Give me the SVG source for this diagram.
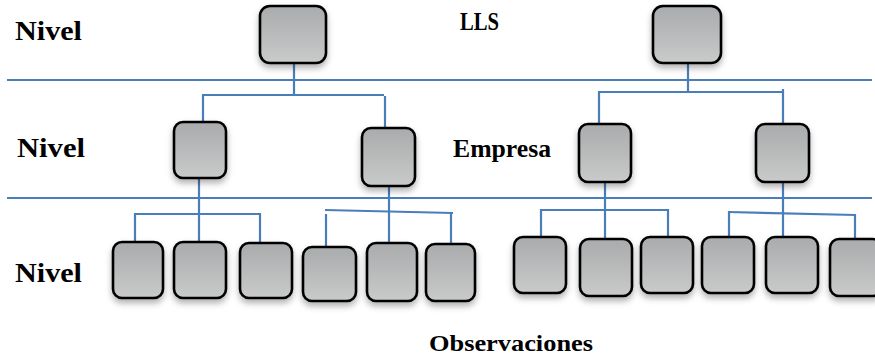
<svg xmlns="http://www.w3.org/2000/svg" width="875" height="357" viewBox="0 0 875 357">
<defs>
<linearGradient id="g" x1="0" y1="0" x2="0" y2="1">
<stop offset="0" stop-color="#a9abac"/>
<stop offset="1" stop-color="#c9caca"/>
</linearGradient>
<filter id="sh" x="-20%" y="-20%" width="140%" height="150%">
<feDropShadow dx="0" dy="4" stdDeviation="3" flood-color="#000" flood-opacity="0.3"/>
</filter>
</defs>
<style>
.n rect{fill:url(#g);stroke:#000;stroke-width:2.6;filter:url(#sh)}
.c line{stroke:#4a7ebb;stroke-width:2.2;fill:none}
.t{font-family:"Liberation Serif","Times New Roman",serif;font-weight:bold;fill:#000}
</style>
<rect width="875" height="357" fill="#fff"/>
<g id="connectors" class="c">
<line x1="7" y1="80" x2="872" y2="80"/>
<line x1="7" y1="198" x2="872" y2="198"/>
<line x1="294" y1="63" x2="294" y2="95"/>
<line x1="203" y1="95" x2="384" y2="95"/>
<line x1="203" y1="94" x2="203" y2="122"/>
<line x1="385" y1="96" x2="385" y2="128"/>
<line x1="688" y1="63" x2="688" y2="92"/>
<line x1="599" y1="92" x2="784" y2="92"/>
<line x1="599" y1="91" x2="599" y2="124"/>
<line x1="783" y1="89" x2="783" y2="124"/>
<line x1="199" y1="178" x2="199" y2="242"/>
<line x1="135" y1="214" x2="261" y2="214"/>
<line x1="135" y1="213" x2="135" y2="242"/>
<line x1="260" y1="213" x2="260" y2="243"/>
<line x1="389" y1="186" x2="389" y2="243"/>
<line x1="325" y1="210" x2="453" y2="213"/>
<line x1="326" y1="214" x2="326" y2="247"/>
<line x1="451" y1="212" x2="451" y2="244"/>
<line x1="605" y1="182" x2="605" y2="239"/>
<line x1="540" y1="210" x2="669" y2="210"/>
<line x1="541" y1="209" x2="541" y2="237"/>
<line x1="668" y1="209" x2="668" y2="237"/>
<line x1="783" y1="182" x2="783" y2="237"/>
<line x1="728" y1="212" x2="856" y2="215"/>
<line x1="729" y1="211" x2="729" y2="237"/>
<line x1="855" y1="214" x2="855" y2="239"/>
</g>
<g id="T1" class="n"><rect x="260" y="6" width="66" height="57" rx="10"/></g>
<g id="T2" class="n"><rect x="653" y="6" width="68" height="57" rx="10"/></g>
<g id="M1" class="n"><rect x="174" y="122" width="52" height="56" rx="9"/></g>
<g id="M2" class="n"><rect x="362" y="128" width="53" height="58" rx="9"/></g>
<g id="M3" class="n"><rect x="579" y="124" width="52" height="58" rx="9"/></g>
<g id="M4" class="n"><rect x="756" y="124" width="53" height="58" rx="9"/></g>
<g id="B1" class="n"><rect x="113" y="242" width="50" height="56" rx="9"/></g>
<g id="B2" class="n"><rect x="174" y="242" width="52" height="56" rx="9"/></g>
<g id="B3" class="n"><rect x="240" y="243" width="52" height="55" rx="9"/></g>
<g id="B4" class="n"><rect x="303" y="247" width="53" height="54" rx="9"/></g>
<g id="B5" class="n"><rect x="367" y="243" width="50" height="58" rx="9"/></g>
<g id="B6" class="n"><rect x="426" y="244" width="49" height="57" rx="9"/></g>
<g id="B7" class="n"><rect x="514" y="237" width="52" height="56" rx="9"/></g>
<g id="B8" class="n"><rect x="580" y="239" width="52" height="57" rx="9"/></g>
<g id="B9" class="n"><rect x="641" y="237" width="52" height="56" rx="9"/></g>
<g id="B10" class="n"><rect x="702" y="237" width="52" height="56" rx="9"/></g>
<g id="B11" class="n"><rect x="766" y="237" width="52" height="56" rx="9"/></g>
<g id="B12" class="n"><rect x="830" y="239" width="52" height="57" rx="9"/></g>
<g id="labels">
<text class="t" x="15" y="40" font-size="27" textLength="67" lengthAdjust="spacingAndGlyphs">Nivel</text>
<text class="t" x="17" y="157" font-size="27" textLength="68" lengthAdjust="spacingAndGlyphs">Nivel</text>
<text class="t" x="15" y="282" font-size="27" textLength="67" lengthAdjust="spacingAndGlyphs">Nivel</text>
<text class="t" x="460" y="30" font-size="25" textLength="39" lengthAdjust="spacingAndGlyphs">LLS</text>
<text class="t" x="453" y="157" font-size="25" textLength="98" lengthAdjust="spacingAndGlyphs">Empresa</text>
<text class="t" x="429" y="351" font-size="24" textLength="164" lengthAdjust="spacingAndGlyphs">Observaciones</text>
</g>
</svg>
